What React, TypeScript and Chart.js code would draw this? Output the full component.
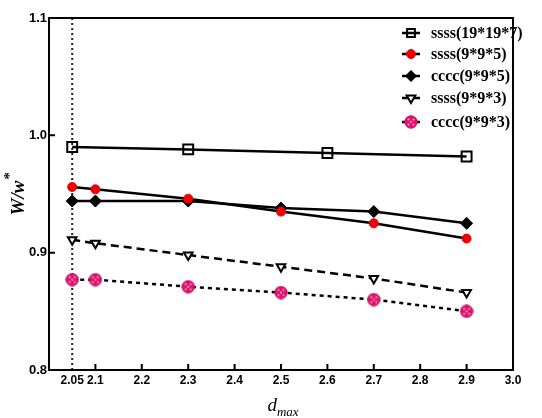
import React, { useEffect, useRef } from "react";
import { Chart, registerables } from "chart.js";
import { drawPoint } from "chart.js/helpers";

Chart.register(...registerables);

// ---- data ----
const seriesLabels = ["ssss(19*19*7)", "ssss(9*9*5)", "cccc(9*9*5)", "ssss(9*9*3)", "cccc(9*9*3)"];
const xCoarse = [2.05, 2.3, 2.6, 2.9];
const ssss19197 = [0.99, 0.988, 0.985, 0.982];
const xFine = [2.05, 2.1, 2.3, 2.5, 2.7, 2.9];
const ssss995 = [0.956, 0.954, 0.946, 0.935, 0.925, 0.912];
const cccc995 = [0.944, 0.944, 0.944, 0.938, 0.935, 0.925];
const ssss993 = [0.911, 0.908, 0.898, 0.888, 0.878, 0.866];
const cccc993 = [0.877, 0.877, 0.871, 0.866, 0.860, 0.850];
const refLineX = 2.05;
const yRange = [0.8, 1.1];
const xRange = [2.0, 3.0];
const xTickValues = [2.05, 2.1, 2.2, 2.3, 2.4, 2.5, 2.6, 2.7, 2.8, 2.9, 3.0];
const xTickLabels = ["2.05", "2.1", "2.2", "2.3", "2.4", "2.5", "2.6", "2.7", "2.8", "2.9", "3.0"];
const yTickValues = [0.8, 0.9, 1.0, 1.1];
const yTickLabels = ["0.8", "0.9", "1.0", "1.1"];

const pts = (xs: number[], ys: number[]) => xs.map((x, i) => ({ x, y: ys[i] }));

function makePinkMarker(): HTMLCanvasElement {
  const c = document.createElement("canvas");
  c.width = 14;
  c.height = 14;
  const g = c.getContext("2d")!;
  g.beginPath();
  g.arc(7, 7, 6.2, 0, Math.PI * 2);
  g.fillStyle = "#e0136c";
  g.fill();
  g.lineWidth = 1;
  g.strokeStyle = "#c40f5c";
  g.stroke();
  g.fillStyle = "#f7a8c8";
  const d = [[4.5, 4.5], [9.5, 4.5], [4.5, 9.5], [9.5, 9.5], [7, 7]];
  for (const [x, y] of d) {
    g.beginPath();
    g.arc(x, y, 1, 0, Math.PI * 2);
    g.fill();
  }
  return c;
}

const xTickFont = { family: "'Liberation Sans', Arial, sans-serif", size: 12, weight: "bold" as const };
const yTickFont = { family: "'Liberation Sans', Arial, sans-serif", size: 13, weight: "bold" as const };
const serif = "'Liberation Serif', 'Times New Roman', serif";

export default function App() {
  const ref = useRef<HTMLCanvasElement | null>(null);

  useEffect(() => {
    document.body.style.margin = "0";
    const canvas = ref.current!;
    const pink = makePinkMarker();

    const frame = {
      id: "frame",
      afterDraw(chart: any) {
        const { ctx, chartArea: a, scales } = chart;
        ctx.save();
        ctx.strokeStyle = "#000";
        ctx.lineWidth = 2;
        ctx.strokeRect(a.left, a.top, a.right - a.left, a.bottom - a.top);
        ctx.beginPath();
        for (const v of xTickValues) {
          if (v === refLineX) continue;
          const px = scales.x.getPixelForValue(v);
          ctx.moveTo(px, a.bottom);
          ctx.lineTo(px, a.bottom - 6);
        }
        for (const v of yTickValues) {
          const py = scales.y.getPixelForValue(v);
          ctx.moveTo(a.left, py);
          ctx.lineTo(a.left + 6, py);
        }
        ctx.stroke();

        // custom legend in chart area
        const lx = 411;
        const rows = [33, 54, 76, 98, 122];
        chart.data.datasets.forEach((ds: any, i: number) => {
          if (!ds.label) return;
          const y = rows[i];
          ctx.beginPath();
          ctx.setLineDash([]);
          ctx.lineWidth = 2.5;
          ctx.strokeStyle = "#000";
          ctx.moveTo(lx - 9, y);
          ctx.lineTo(lx + 9, y);
          ctx.stroke();
          ctx.fillStyle = ds.pointBackgroundColor;
          ctx.strokeStyle = ds.pointBorderColor;
          ctx.lineWidth = ds.pointBorderWidth;
          drawPoint(ctx, { pointStyle: ds.pointStyle, rotation: ds.pointRotation || 0, radius: Math.min(ds.pointRadius, 5.5), borderWidth: ds.pointBorderWidth }, lx, y);
          ctx.fillStyle = "#000";
          ctx.font = "bold 16px " + serif;
          ctx.textAlign = "left";
          ctx.textBaseline = "middle";
          ctx.fillText(ds.label, 431, y + 1);
        });

        // axis titles
        ctx.fillStyle = "#000";
        ctx.textBaseline = "alphabetic";
        ctx.font = "italic 19px " + serif;
        const dW = ctx.measureText("d").width;
        ctx.font = "italic 13px " + serif;
        const mW = ctx.measureText("max").width;
        const cx = (a.left + a.right) / 2 - (dW + mW) / 2 + 2;
        ctx.font = "italic 19px " + serif;
        ctx.fillText("d", cx, 411);
        ctx.font = "italic 13px " + serif;
        ctx.fillText("max", cx + dW, 416);

        ctx.save();
        ctx.translate(24, 196);
        ctx.rotate(-Math.PI / 2);
        ctx.font = "italic bold 19px " + serif;
        const tW = ctx.measureText("W/w").width;
        ctx.fillText("W/w", -tW / 2 - 2, 0);
        ctx.font = "bold 15px " + serif;
        ctx.fillText("*", tW / 2 - 1, -10);
        ctx.restore();
        ctx.restore();
      },
    };

    const chart = new Chart(canvas, {
      type: "line",
      data: {
        datasets: [
          {
            label: seriesLabels[0],
            data: pts(xCoarse, ssss19197),
            borderColor: "#000",
            borderWidth: 2.5,
            pointStyle: "rect",
            pointRadius: 7,
            pointBackgroundColor: "rgba(0,0,0,0)",
            pointBorderColor: "#000",
            pointBorderWidth: 2,
          },
          {
            label: seriesLabels[1],
            data: pts(xFine, ssss995),
            borderColor: "#000",
            borderWidth: 2.5,
            pointStyle: "circle",
            pointRadius: 4.5,
            pointBackgroundColor: "#f00000",
            pointBorderColor: "#f00000",
            pointBorderWidth: 1,
          },
          {
            label: seriesLabels[2],
            data: pts(xFine, cccc995),
            borderColor: "#000",
            borderWidth: 2.5,
            pointStyle: "rectRot",
            pointRadius: 6,
            pointBackgroundColor: "#000",
            pointBorderColor: "#000",
            pointBorderWidth: 1,
          },
          {
            label: seriesLabels[3],
            data: pts(xFine, ssss993),
            borderColor: "#000",
            borderWidth: 2.5,
            borderDash: [8, 5],
            pointStyle: "triangle",
            pointRotation: 180,
            pointRadius: 5,
            pointBackgroundColor: "#fff",
            pointBorderColor: "#000",
            pointBorderWidth: 2,
          },
          {
            label: seriesLabels[4],
            data: pts(xFine, cccc993),
            borderColor: "#000",
            borderWidth: 2.5,
            borderDash: [4, 4],
            pointStyle: pink as any,
            pointRadius: 6,
            pointBackgroundColor: "#e0136c",
            pointBorderColor: "#c40f5c",
            pointBorderWidth: 1,
          },
          {
            label: "",
            data: [{ x: refLineX, y: yRange[0] }, { x: refLineX, y: yRange[1] }],
            borderColor: "#222",
            borderWidth: 2,
            borderDash: [2, 3],
            pointRadius: 0,
            order: 10,
          },
        ],
      },
      options: {
        animation: false,
        responsive: false,
        layout: { padding: { left: 0, top: 18, right: 29, bottom: 0 } },
        plugins: { legend: { display: false }, tooltip: { enabled: false } },
        scales: {
          x: {
            type: "linear",
            min: xRange[0],
            max: xRange[1],
            grid: { display: false, drawTicks: false, tickLength: 0 },
            border: { display: false },
            afterBuildTicks: (s: any) => {
              s.ticks = xTickValues.map((v) => ({ value: v }));
            },
            afterFit: (s: any) => {
              s.height = 48;
            },
            ticks: {
              color: "#000",
              font: xTickFont,
              padding: 3,
              maxRotation: 0,
              autoSkip: false,
              callback: (v: any) => {
                const i = xTickValues.findIndex((t) => Math.abs(t - v) < 1e-9);
                return i >= 0 ? xTickLabels[i] : "";
              },
            },
          },
          y: {
            type: "linear",
            min: yRange[0],
            max: yRange[1],
            grid: { display: false, drawTicks: false, tickLength: 0 },
            border: { display: false },
            afterBuildTicks: (s: any) => {
              s.ticks = yTickValues.map((v) => ({ value: v }));
            },
            afterFit: (s: any) => {
              s.width = 49;
            },
            ticks: {
              color: "#000",
              font: yTickFont,
              padding: 2,
              callback: (v: any) => {
                const i = yTickValues.findIndex((t) => Math.abs(t - v) < 1e-9);
                return i >= 0 ? yTickLabels[i] : "";
              },
            },
          },
        },
      },
      plugins: [frame],
    });
    return () => chart.destroy();
  }, []);

  return <canvas ref={ref} width={542} height={418} style={{ display: "block", width: 542, height: 418 }} />;
}
